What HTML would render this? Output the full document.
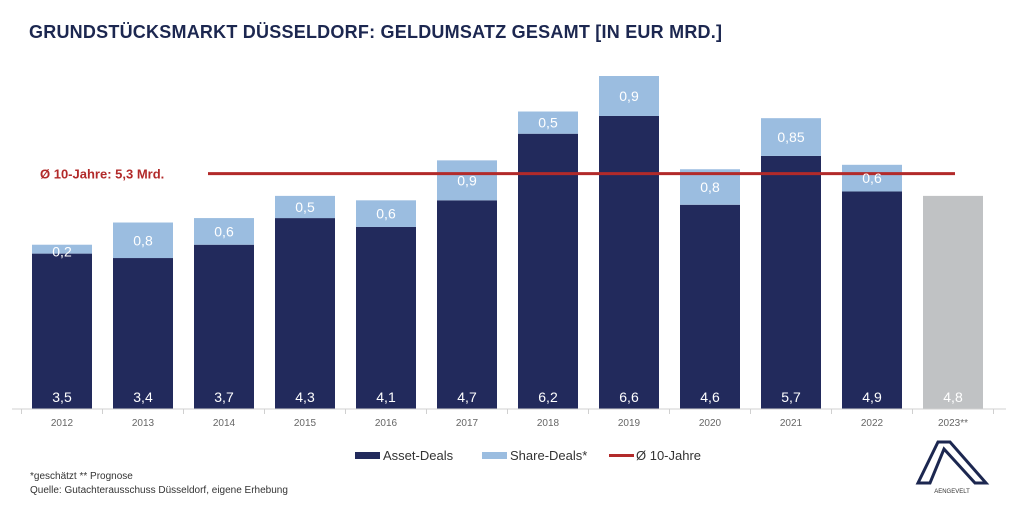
<!DOCTYPE html>
<html><head><meta charset="utf-8"><style>
body{margin:0;width:1024px;height:503px;background:#fff;overflow:hidden;font-family:"Liberation Sans",sans-serif}
</style></head><body>
<svg id="chart" width="1024" height="503" xmlns="http://www.w3.org/2000/svg" font-family="Liberation Sans, sans-serif">
<text x="29" y="38" font-size="18" font-weight="bold" fill="#1c2750" textLength="693">GRUNDSTÜCKSMARKT DÜSSELDORF: GELDUMSATZ GESAMT [IN EUR MRD.]</text>
<g id="bars"></g>
<line x1="12" y1="409" x2="1006" y2="409" stroke="#d0d0d0" stroke-width="1"/>
<g id="ticks"></g>
<g id="avg"></g>
<g font-size="13" fill="#333">
<rect x="355" y="452" width="25" height="7" fill="#222a5c"/>
<text x="383" y="460">Asset-Deals</text>
<rect x="482" y="452" width="25" height="7" fill="#9bbde0"/>
<text x="510" y="460">Share-Deals*</text>
<rect x="609" y="454" width="25" height="3" fill="#b22a2a"/>
<text x="636" y="460">Ø 10-Jahre</text>
</g>
<text x="30" y="479" font-size="10" fill="#333">*geschätzt  ** Prognose</text>
<text x="30" y="493" font-size="10" fill="#333">Quelle: Gutachterausschuss Düsseldorf, eigene Erhebung</text>
<g>
<polygon points="938,442 950,442 986,483 975,483 944,449 930,483 918,483" fill="none" stroke="#1c2750" stroke-width="3" stroke-linejoin="miter"/>
<text x="952" y="493" font-size="6" fill="#333" text-anchor="middle">AENGEVELT</text>
</g>
</svg>
<script>
const years=["2012","2013","2014","2015","2016","2017","2018","2019","2020","2021","2022","2023**"];
const asset=[3.5,3.4,3.7,4.3,4.1,4.7,6.2,6.6,4.6,5.7,4.9,4.8];
const share=[0.2,0.8,0.6,0.5,0.6,0.9,0.5,0.9,0.8,0.85,0.6,0];
const assetLabels=["3,5","3,4","3,7","4,3","4,1","4,7","6,2","6,6","4,6","5,7","4,9","4,8"];
const shareLabels=["0,2","0,8","0,6","0,5","0,6","0,9","0,5","0,9","0,8","0,85","0,6",""];
const avgValue=5.3;
const avgLabel="Ø 10-Jahre: 5,3 Mrd.";
const NS="http://www.w3.org/2000/svg";
const base=409,pxPer=44.4,x0=62,step=81,bw=60;
const y=v=>base-v*pxPer, xc=i=>x0+i*step;
function mk(t,a,p){const e=document.createElementNS(NS,t);for(const k in a)e.setAttribute(k,a[k]);p.appendChild(e);return e;}
const g=document.getElementById('bars'),tg=document.getElementById('ticks'),ag=document.getElementById('avg');
years.forEach((yr,i)=>{
 const forecast=i===years.length-1;
 const r=mk('rect',{x:xc(i)-bw/2,y:y(asset[i]),width:bw,height:asset[i]*pxPer,fill:forecast?'#c0c2c4':'#222a5c'},g);
 
 
 const t=mk('text',{x:xc(i),y:402,'font-size':14,fill:'#fff','text-anchor':'middle'},g);t.textContent=assetLabels[i];
 
 
 if(share[i]>0){
  const s=mk('rect',{x:xc(i)-bw/2,y:y(asset[i]+share[i]),width:bw,height:share[i]*pxPer,fill:'#9bbde0'},g);
  
  
 }
 const yl=mk('text',{x:xc(i),y:426,'font-size':10,fill:'#666','text-anchor':'middle'},tg);yl.textContent=yr;
 
 
 mk('line',{x1:xc(i)-step/2,y1:409,x2:xc(i)-step/2,y2:414,stroke:'#d0d0d0'},tg);
});
mk('line',{x1:xc(years.length-1)+step/2,y1:409,x2:xc(years.length-1)+step/2,y2:414,stroke:'#d0d0d0'},tg);
const al=mk('line',{x1:208,y1:y(avgValue),x2:955,y2:y(avgValue),stroke:'#b22a2a','stroke-width':3},ag);


const at=mk('text',{x:40,y:y(avgValue)+5,'font-size':13,'font-weight':'bold',fill:'#b22a2a'},ag);at.textContent=avgLabel;


years.forEach((yr,i)=>{
 if(share[i]>0){
  const my=(y(asset[i]+share[i])+y(asset[i]))/2;
  let ty=Math.max(my+5,y(asset[i]+share[i])+12);
  const st=mk('text',{x:xc(i),y:ty,'font-size':14,fill:'#fff','text-anchor':'middle'},ag);st.textContent=shareLabels[i];
  
  
 }
});
</script>
</body></html>
